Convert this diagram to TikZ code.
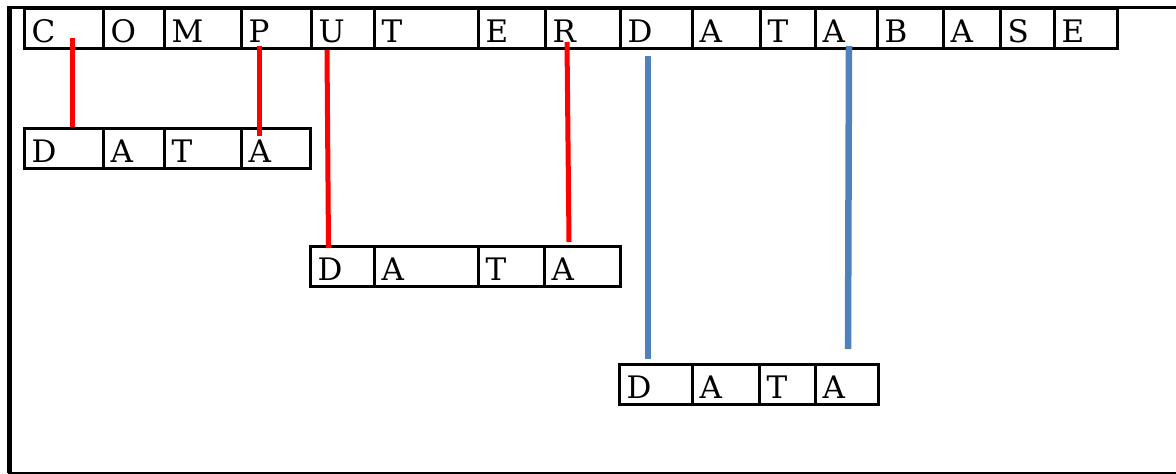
\documentclass[tikz,border=0pt]{standalone}
\usepackage{fontspec}
\setmainfont{DejaVu Serif}
\definecolor{linkred}{HTML}{FF0000}
\definecolor{linkblue}{HTML}{4F81BD}
\tikzset{
  cell/.style={draw=black, line width=3pt, anchor=south west, outer sep=0pt,
    inner xsep=7.5pt, inner ysep=0pt, text height=34pt, text depth=6pt,
    font=\fontsize{31}{34}\selectfont},
  redlink/.style={draw=linkred, line width=5pt},
  bluelink/.style={draw=linkblue, line width=6.5pt},
  frameline/.style={draw=black}
}
% one lettered cell: name, left x, bottom y, width, letter
\newcommand\lettercell[5]{%
  \node[cell] (#1) at (#2,-#3) {\makebox[\dimexpr#4pt-15pt\relax][l]{#5}};}
\begin{document}
\begin{tikzpicture}[x=1pt,y=1pt]
\useasboundingbox (0,0) rectangle (1176,-474);
% outer frame (open on the right)
\draw[frameline, line width=3pt] (8,-7) -- (1176,-7);
\draw[frameline, line width=4.5pt] (9.5,-5.5) -- (9.5,-473);
\draw[frameline, line width=2.5pt] (8,-473) -- (1176,-473);

% COMPUTER DATABASE
\lettercell{t1}{24}{48.5}{79}{C}
\lettercell{t2}{103}{48.5}{61}{O}
\lettercell{t3}{164}{48.5}{77}{M}
\lettercell{t4}{241}{48.5}{70}{P}
\lettercell{t5}{311}{48.5}{63}{U}
\lettercell{t6}{374}{48.5}{104}{T}
\lettercell{t7}{478}{48.5}{67}{E}
\lettercell{t8}{545}{48.5}{75}{R}
\lettercell{t9}{620}{48.5}{72}{D}
\lettercell{t10}{692}{48.5}{68}{A}
\lettercell{t11}{760}{48.5}{55}{T}
\lettercell{t12}{815}{48.5}{62}{A}
\lettercell{t13}{877}{48.5}{66}{B}
\lettercell{t14}{943}{48.5}{57}{A}
\lettercell{t15}{1000}{48.5}{54}{S}
\lettercell{t16}{1054}{48.5}{63}{E}

% first DATA
\lettercell{a1}{24}{168.5}{79}{D}
\lettercell{a2}{103}{168.5}{61}{A}
\lettercell{a3}{164}{168.5}{77}{T}
\lettercell{a4}{241}{168.5}{69}{A}

% second DATA
\lettercell{b1}{310}{286.5}{64}{D}
\lettercell{b2}{374}{286.5}{104}{A}
\lettercell{b3}{478}{286.5}{66}{T}
\lettercell{b4}{544}{286.5}{76}{A}

% third DATA
\lettercell{c1}{619}{404.5}{73}{D}
\lettercell{c2}{692}{404.5}{67}{A}
\lettercell{c3}{759}{404.5}{56}{T}
\lettercell{c4}{815}{404.5}{63}{A}

% link end points
\coordinate (r1s) at (72.7,-38);  \coordinate (r1e) at (72.7,-127);
\coordinate (r2s) at (259,-46);   \coordinate (r2e) at (259,-136);
\coordinate (r3s) at (327,-50);   \coordinate (r3e) at (328.5,-248);
\coordinate (r4s) at (567,-42);   \coordinate (r4e) at (569,-242);
\coordinate (b1s) at (648,-56);   \coordinate (b1e) at (648,-359);
\coordinate (b2s) at (849,-46);   \coordinate (b2e) at (848,-349);

% links
\draw[redlink] (r1s) -- (r1e);
\draw[redlink] (r2s) -- (r2e);
\draw[redlink] (r3s) -- (r3e);
\draw[redlink] (r4s) -- (r4e);
\draw[bluelink] (b1s) -- (b1e);
\draw[bluelink] (b2s) -- (b2e);
\end{tikzpicture}
\end{document}
